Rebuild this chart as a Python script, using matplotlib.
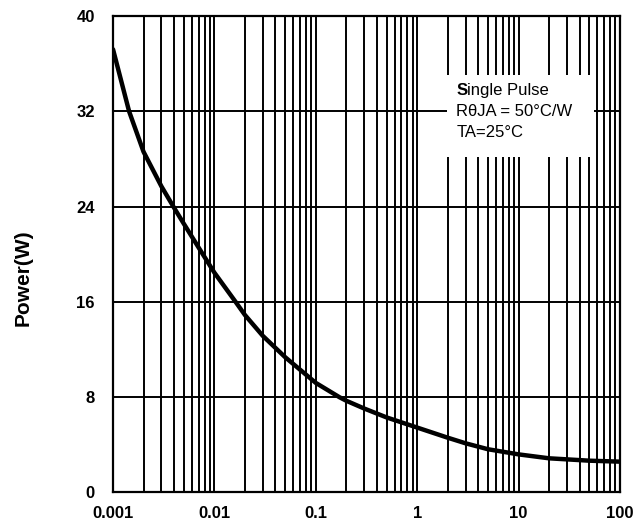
import matplotlib
matplotlib.use("Agg")
import matplotlib.pyplot as plt
from matplotlib.patches import Rectangle
from matplotlib.ticker import FixedLocator, NullFormatter

# pulse width (s) vs peak power (W)
pulse_time = [0.001, 0.00144, 0.002, 0.003, 0.004, 0.005, 0.007, 0.01, 0.0165, 0.02,
              0.03, 0.05, 0.1, 0.171, 0.2, 0.3, 0.5, 1, 2, 3, 5, 10, 20, 50, 100]
power = [37.2, 32.0, 28.6, 25.7, 23.9, 22.55, 20.55, 18.45, 15.9, 14.9,
         13.15, 11.35, 9.2, 8.0, 7.7, 7.05, 6.3, 5.45, 4.6, 4.13, 3.63, 3.2, 2.87, 2.67, 2.59]

x_ticks = [0.001, 0.01, 0.1, 1, 10, 100]
x_tick_labels = ["0.001", "0.01", "0.1", "1", "10", "100"]
y_ticks = [0, 8, 16, 24, 32, 40]
note_lines = ["RθJA = 50°C/W", "TA=25°C"]

plt.rcParams["font.family"] = ["Liberation Sans", "DejaVu Sans"]

fig = plt.figure(figsize=(6.44, 5.29), dpi=100)
ax = fig.add_axes([0.1755, 0.069, 0.7872, 0.9008])

ax.plot(pulse_time, power, color="black", lw=3.2, solid_capstyle="round",
        solid_joinstyle="round", zorder=4)

ax.set_xscale("log")
ax.set_xlim(0.001, 100)
ax.set_ylim(0, 40)

minor = [m * 10.0 ** e for e in range(-3, 2) for m in range(2, 10)]
ax.xaxis.set_minor_locator(FixedLocator(minor))
ax.xaxis.set_minor_formatter(NullFormatter())
ax.set_xticks(x_ticks)
ax.set_xticklabels(x_tick_labels)
ax.set_yticks(y_ticks)
ax.set_yticklabels([str(v) for v in y_ticks])

ax.set_axisbelow(True)
ax.grid(True, which="both", axis="x", color="black", lw=1.4)
ax.grid(True, which="major", axis="y", color="black", lw=1.4)
ax.tick_params(which="both", length=0)
ax.tick_params(axis="y", pad=13, labelsize=12)
ax.tick_params(axis="x", pad=10, labelsize=12)
for lab in ax.get_xticklabels() + ax.get_yticklabels():
    lab.set_fontweight("bold")
for sp in ax.spines.values():
    sp.set_linewidth(1.6)

ax.set_ylabel("Power(W)", fontsize=15, fontweight="bold")
ax.yaxis.set_label_coords(-0.158, 0.45)

# white note box hiding the grid
ax.add_patch(Rectangle((0.659, 0.704), 0.29, 0.172, transform=ax.transAxes,
                       facecolor="white", edgecolor="none", zorder=2.5))
s = ax.text(0.677, 0.843, "S", transform=ax.transAxes, fontsize=12, fontweight="bold",
            va="center", ha="left", zorder=5)
ax.annotate("ingle Pulse", xy=(1, 0), xycoords=s, fontsize=12, va="bottom", ha="left", zorder=5)
for i, line in enumerate(note_lines):
    ax.text(0.677, 0.799 - i * 0.044, line, transform=ax.transAxes, fontsize=12,
            va="center", ha="left", zorder=5)

fig.savefig("out.png", dpi=100)
